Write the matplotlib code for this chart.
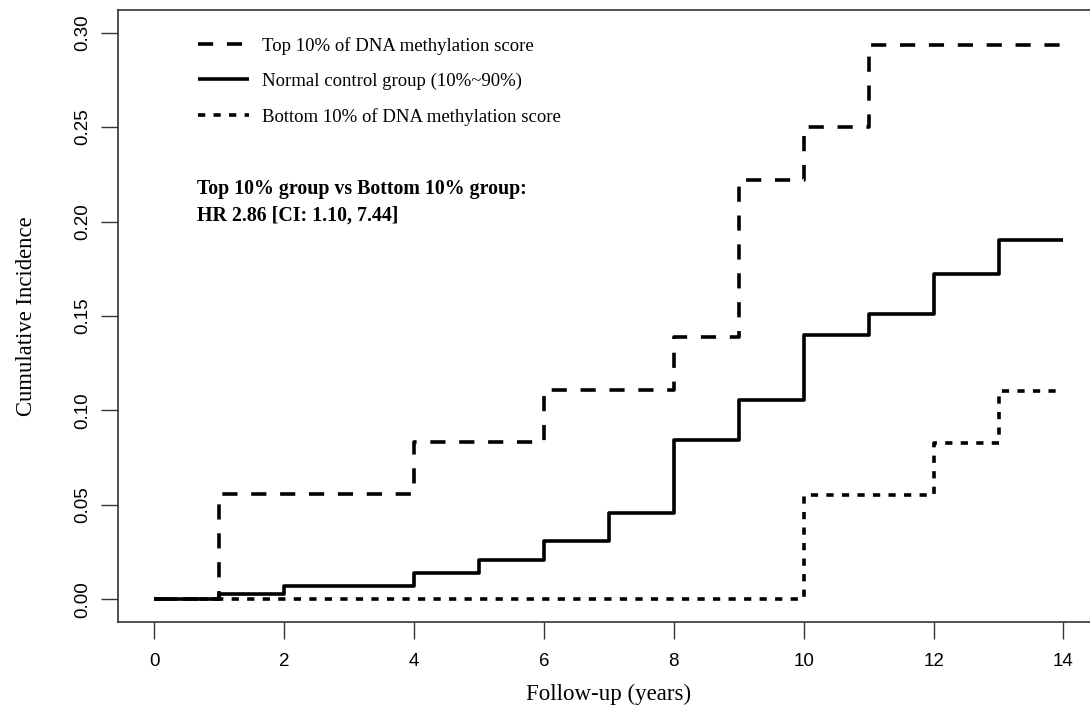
import matplotlib
matplotlib.use("Agg")
import matplotlib.pyplot as plt

# Cumulative incidence step curves
TOP_TIMES = [0, 1, 4, 6, 8, 9, 10, 11, 14]
TOP_INC = [0.0, 0.0556, 0.0833, 0.111, 0.139, 0.222, 0.250, 0.2935, 0.2935]

NORMAL_TIMES = [0, 1, 2, 4, 5, 6, 7, 8, 9, 10, 11, 12, 13, 14]
NORMAL_INC = [0.0, 0.0027, 0.0069, 0.0138, 0.021, 0.031, 0.0455, 0.0843,
              0.1055, 0.140, 0.151, 0.172, 0.190, 0.190]

BOTTOM_TIMES = [0, 10, 12, 13, 14]
BOTTOM_INC = [0.0, 0.0553, 0.0830, 0.1105, 0.1105]

LABELS = [
    "Top 10% of DNA methylation score",
    "Normal control group (10%~90%)",
    "Bottom 10% of DNA methylation score",
]
X_TICKS = [0, 2, 4, 6, 8, 10, 12, 14]
Y_TICKS = [0.00, 0.05, 0.10, 0.15, 0.20, 0.25, 0.30]

SERIF = "Liberation Serif"
SANS = "Liberation Sans"


def main():
    fig = plt.figure(figsize=(10.9, 7.12), dpi=100)
    # axes box runs past the right edge, as in the cropped original
    ax = fig.add_axes([0.1083, 0.1264, 0.9007, 0.8596])

    lw = 2.6
    l_bot, = ax.step(BOTTOM_TIMES, BOTTOM_INC, where="post", color="black",
                     lw=lw, linestyle=(0, (2.0, 2.3)), dash_capstyle="butt")
    l_top, = ax.step(TOP_TIMES, TOP_INC, where="post", color="black",
                     lw=lw, linestyle=(0, (4.2, 3.8)), dash_capstyle="butt")
    l_norm, = ax.step(NORMAL_TIMES, NORMAL_INC, where="post", color="black",
                      lw=lw, solid_capstyle="butt")

    ax.set_xlim(-0.56, 14.56)
    ax.set_ylim(-0.012, 0.312)
    ax.set_xticks(X_TICKS)
    ax.set_yticks(Y_TICKS)
    ax.set_xticklabels([str(t) for t in X_TICKS], fontfamily=SANS, fontsize=13.5)
    ax.set_yticklabels([f"{t:.2f}" for t in Y_TICKS], fontfamily=SANS,
                       fontsize=13.5, rotation=90, va="center")
    ax.tick_params(axis="both", length=12, width=1, color="#333333")
    ax.tick_params(axis="x", pad=10)
    ax.tick_params(axis="y", pad=7)

    for side in ["right", "top", "left", "bottom"]:
        ax.spines[side].set_color("#333333")
        ax.spines[side].set_linewidth(1.2)

    ax.set_xlabel("Follow-up (years)", fontfamily=SERIF, fontsize=16.5, labelpad=10)
    ax.set_ylabel("Cumulative Incidence", fontfamily=SERIF, fontsize=16.3, labelpad=27)

    ax.legend([l_top, l_norm, l_bot], LABELS, loc="upper left",
              bbox_to_anchor=(198 / 1090, 1 - 37 / 712),
              bbox_transform=fig.transFigure, frameon=False,
              prop={"family": SERIF, "size": 13.5}, handlelength=2.7,
              handletextpad=0.7, labelspacing=0.95, borderpad=0,
              borderaxespad=0)

    fig.text(197 / 1090, 1 - 202 / 712,
             "Top 10% group vs Bottom 10% group:\nHR 2.86 [CI: 1.10, 7.44]",
             fontfamily=SERIF, fontsize=14.3, fontweight="bold",
             va="center", ha="left", linespacing=1.46)

    fig.savefig("out.png", dpi=100)


if __name__ == "__main__":
    main()
